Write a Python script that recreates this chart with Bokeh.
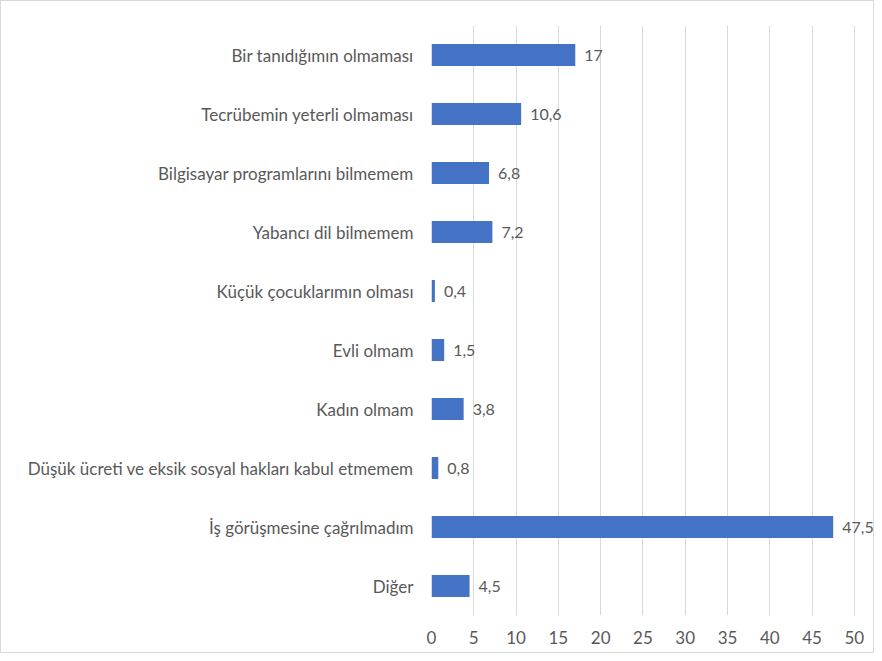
from bokeh.plotting import figure
from bokeh.models import ColumnDataSource, FixedTicker, Range1d
from bokeh.core.properties import value
from bokeh.embed import file_html
from bokeh.resources import INLINE

categories = [
    "Bir tanıdığımın olmaması",
    "Tecrübemin yeterli olmaması",
    "Bilgisayar programlarını bilmemem",
    "Yabancı dil bilmemem",
    "Küçük çocuklarımın olması",
    "Evli olmam",
    "Kadın olmam",
    "Düşük ücreti ve eksik sosyal hakları kabul etmemem",
    "İş görüşmesine çağrılmadım",
    "Diğer",
]
values = [17, 10.6, 6.8, 7.2, 0.4, 1.5, 3.8, 0.8, 47.5, 4.5]
value_labels = ["17", "10,6", "6,8", "7,2", "0,4", "1,5", "3,8", "0,8", "47,5", "4,5"]
x_ticks = [0, 5, 10, 15, 20, 25, 30, 35, 40, 45, 50]

FONT = "Lato"
FS = "17px"
TEXT_COLOR = "#595959"

source = ColumnDataSource(dict(cat=categories, val=values, lab=value_labels))

p = figure(
    y_range=list(reversed(categories)),
    x_range=Range1d(0, 52.5),
    width=874, height=653,
    output_backend="svg", toolbar_location=None,
    min_border_left=430, min_border_right=0,
    min_border_top=24, min_border_bottom=39,
)
p.hbar(y="cat", right="val", left=0, height=0.37, source=source,
       color="#4472C4", line_color=None)
p.text(x="val", y="cat", text="lab", source=source, x_offset=9,
       text_align="left", text_baseline="middle",
       text_font=value(FONT), text_font_size="16px", text_color=TEXT_COLOR)

p.outline_line_color = None
p.ygrid.grid_line_color = None
p.xgrid.grid_line_color = "#d9d9d9"
p.xgrid.grid_line_width = 1
p.xaxis.ticker = FixedTicker(ticks=x_ticks)

for ax in (p.xaxis[0], p.yaxis[0]):
    ax.axis_line_color = None
    ax.major_tick_line_color = None
    ax.minor_tick_line_color = None
    ax.major_tick_out = 0
    ax.major_tick_in = 0
    ax.major_label_text_font = FONT
    ax.major_label_text_font_size = FS
    ax.major_label_text_color = TEXT_COLOR
p.yaxis.major_label_standoff = 18
p.xaxis.major_label_standoff = 15

p.styles = {"border": "1px solid #d9d9d9"}

open("out.html", "w").write(file_html(p, INLINE))
